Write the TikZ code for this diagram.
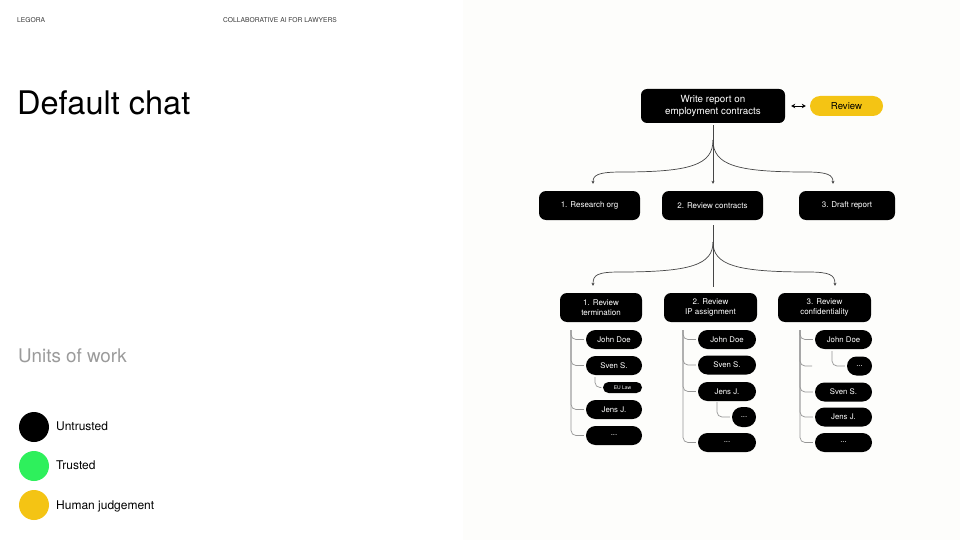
\documentclass[tikz,border=0pt]{standalone}
\usepackage{fontspec}
\setmainfont{TeX Gyre Heros}
\usetikzlibrary{arrows.meta,calc}
\definecolor{panel}{RGB}{253,253,251}
\definecolor{gold}{RGB}{244,196,20}
\definecolor{lgreen}{RGB}{46,240,92}
\definecolor{treegray}{RGB}{150,150,150}
\definecolor{linegray}{RGB}{70,70,70}
\definecolor{headgray}{RGB}{60,60,60}
\definecolor{subgray}{RGB}{155,155,155}
\begin{document}
\begin{tikzpicture}[x=1pt,y=-1pt,
  box/.style={fill=black,text=white,rounded corners=7pt,inner sep=0pt,align=center,
    font=\fontsize{8}{10.5}\selectfont},
  leaf/.style={fill=black,text=white,rounded corners=9.5pt,inner sep=0pt,
    minimum height=19pt,font=\fontsize{7.8}{9}\selectfont},
  conn/.style={draw=linegray,line width=0.7pt},
  tip/.style={-{Stealth[length=3pt,width=3pt]}},
  tree/.style={draw=treegray,line width=0.7pt,rounded corners=5pt},
  lbl/.style={anchor=base west,inner sep=0pt}]
\useasboundingbox (0,0) rectangle (960,540);
\fill[white] (0,0) rectangle (960,540);
\fill[panel] (463,0) rectangle (960,540);

% header and titles
\node[lbl,text=headgray,font=\fontsize{6.7}{8}\selectfont] (hl) at (17,23) {LEGORA};
\node[lbl,text=headgray,font=\fontsize{6.7}{8}\selectfont] (hr) at (223,23) {COLLABORATIVE AI FOR LAWYERS};
\node[lbl,font=\fontsize{32.5}{36}\selectfont] (title) at (17,115) {Default chat};
\node[lbl,text=subgray,font=\fontsize{18.8}{22}\selectfont] (units) at (18,362) {Units of work};

% legend
\fill[black] (34,427) circle (15pt);
\fill[lgreen] (34,466) circle (15pt);
\fill[gold] (34,505) circle (15pt);
\node[lbl,font=\fontsize{12}{14}\selectfont] (lg1) at (56,430.5) {Untrusted};
\node[lbl,font=\fontsize{12}{14}\selectfont] (lg2) at (56,469.5) {Trusted};
\node[lbl,font=\fontsize{12}{14}\selectfont] (lg3) at (56,509) {Human judgement};

% top
\node[box,rounded corners=6pt,minimum width=144pt,minimum height=34pt,
  font=\fontsize{9.8}{12.5}\selectfont] (top) at (713,106) {Write report on\\employment contracts};
\node[fill=gold,rounded corners=10pt,inner sep=0pt,minimum width=73pt,minimum height=20pt,
  font=\fontsize{9.6}{11}\selectfont] (rev) at (846.5,106) {Review};
\draw[line width=0.9pt,{Stealth[length=4pt,width=4.5pt]}-{Stealth[length=4pt,width=4.5pt]},
  shorten <=6pt,shorten >=4pt] (top.east) -- (rev.west);

% level 1
\node[box,minimum width=101pt,minimum height=29pt] (l1a) at (589.5,205.5) {1. Research org};
\node[box,minimum width=101pt,minimum height=29pt] (l1b) at (712.5,205.5) {2. Review contracts};
\node[box,minimum width=96pt,minimum height=29pt] (l1c) at (847,205.5) {3. Draft report};

\coordinate (b1) at (713,140);
\draw[conn] ($(top.south)+(0,2)$) -- (b1);
\draw[conn,tip] (b1) -- ($(l1b.north)+(0.5,-7)$);
\draw[conn,tip] (b1) .. controls (713,165) and (690,172) .. (622,172)
  .. controls (598,172) and (593,175) .. ($(l1a.north)+(3.5,-7)$);
\draw[conn,tip] (b1) .. controls (713,165) and (736,172) .. (806,172)
  .. controls (828,172) and (833,175) .. ($(l1c.north)+(-14,-7)$);

% level 2
\node[box,minimum width=82pt,minimum height=29pt] (l2a) at (601,307.5) {1. Review\\termination};
\node[box,minimum width=93pt,minimum height=29pt] (l2b) at (710.5,307.5) {2. Review\\IP assignment};
\node[box,minimum width=93pt,minimum height=29pt] (l2c) at (824.5,307.5) {3. Review\\confidentiality};

\coordinate (b2) at (713,242);
\draw[conn] ($(l1b.south)+(0.5,5)$) -- (b2);
\draw[conn] (b2) -- ($(l2b.north)+(2.5,-6)$);
\draw[conn,tip] (b2) .. controls (713,265) and (690,272) .. (620,272)
  .. controls (597,272) and (593,275) .. ($(l2a.north)+(-8,-7)$);
\draw[conn,tip] (b2) .. controls (713,265) and (736,272) .. (808,272)
  .. controls (830,272) and (835,275) .. ($(l2c.north)+(10.5,-7)$);

% column 1
\node[leaf,minimum width=56pt] (c1a) at (614,339.5) {John Doe};
\node[leaf,minimum width=56pt] (c1b) at (614,365.5) {Sven S.};
\node[leaf,minimum width=39pt,minimum height=11pt,rounded corners=5.5pt,
  font=\fontsize{5}{6}\selectfont] (c1e) at (622.5,387.5) {EU Law};
\node[leaf,minimum width=56pt] (c1c) at (614,409.5) {Jens J.};
\node[leaf,minimum width=56pt] (c1d) at (614,435.5) {...};
\coordinate (t1) at (571,330);
\coordinate (s1) at (595,377);
\foreach \n in {c1a,c1b,c1c,c1d} \draw[tree] (t1) |- ([xshift=-2pt]\n.west);
\draw[tree] (s1) |- ([xshift=-1.5pt]c1e.west);

% column 2
\node[leaf,minimum width=58pt] (c2a) at (727,339.5) {John Doe};
\node[leaf,minimum width=58pt] (c2b) at (727,365) {Sven S.};
\node[leaf,minimum width=58pt] (c2c) at (727,391.5) {Jens J.};
\node[leaf,minimum width=24pt,minimum height=20pt,rounded corners=10pt] (c2e) at (744,417) {...};
\node[leaf,minimum width=58pt] (c2d) at (727,442.5) {...};
\coordinate (t2) at (683,330);
\coordinate (s2) at (717,402);
\foreach \n in {c2a,c2b,c2c,c2d} \draw[tree] (t2) |- ([xshift=-2pt]\n.west);
\draw[tree] (s2) |- ([xshift=-2pt]c2e.west);

% column 3
\node[leaf,minimum width=57pt] (c3a) at (843.5,339.5) {John Doe};
\node[leaf,minimum width=25pt,minimum height=19pt] (c3e) at (859.5,366) {...};
\node[leaf,minimum width=57pt] (c3b) at (843.5,392) {Sven S.};
\node[leaf,minimum width=57pt] (c3c) at (843.5,417) {Jens J.};
\node[leaf,minimum width=57pt] (c3d) at (843.5,442.5) {...};
\coordinate (t3) at (800,330);
\coordinate (s3) at (832,351);
\coordinate (stub3) at (812,366);
\foreach \n in {c3a,c3b,c3c,c3d} \draw[tree] (t3) |- ([xshift=-2pt]\n.west);
\draw[tree] (t3) |- (stub3);
\draw[tree] (s3) |- ([xshift=-2pt]c3e.west);
\end{tikzpicture}
\end{document}
